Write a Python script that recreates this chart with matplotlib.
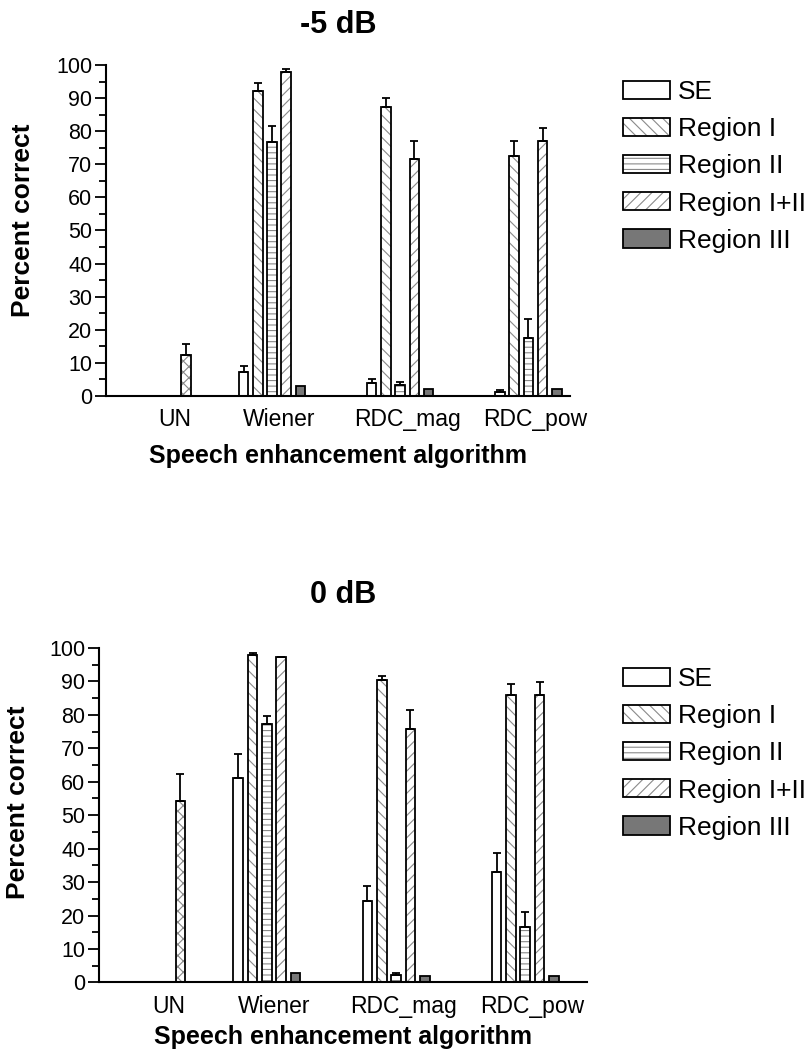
import matplotlib
matplotlib.use("Agg")
import matplotlib.pyplot as plt
from matplotlib.patches import Patch
import numpy as np

plt.rcParams['font.family'] = ['Liberation Sans', 'DejaVu Sans']
plt.rcParams['hatch.linewidth'] = 0.8

groups = ['UN', 'Wiener', 'RDC_mag', 'RDC_pow']
series = ['SE', 'Region I', 'Region II', 'Region I+II', 'Region III']

# -5 dB (Wiener, RDC_mag, RDC_pow)
m5_un, m5_un_err = 12.4, 3.2
m5_vals = [[7.2, 3.8, 1.1],
           [92.0, 87.4, 72.4],
           [76.6, 3.3, 17.6],
           [97.8, 71.6, 77.1],
           [3.0, 2.0, 2.0]]
m5_err = [[1.9, 1.2, 0.6],
          [2.7, 2.7, 4.6],
          [5.0, 1.0, 5.8],
          [1.0, 5.4, 4.0],
          [0.0, 0.0, 0.0]]

# 0 dB
z_un, z_un_err = 54.4, 7.9
z_vals = [[61.2, 24.4, 33.1],
          [97.9, 90.3, 86.0],
          [77.2, 2.1, 16.5],
          [97.2, 75.9, 85.8],
          [2.9, 1.9, 1.9]]
z_err = [[7.2, 4.3, 5.6],
         [0.5, 1.4, 3.1],
         [2.4, 0.8, 4.6],
         [0.2, 5.6, 4.0],
         [0.0, 0.0, 0.0]]

# styles
fills = ['white', 'white', 'white', 'white', '#777777']
hatches = [None, '\\\\\\', '---', '///', None]
hatch_gray = '#8a8a8a'

group_x = np.array([1.0, 2.0, 3.0])
un_x = 0.33
step = 0.111
width = 0.074
label_x = [0.24, 1.055, 2.055, 3.055]

fig = plt.figure(figsize=(8.05, 10.5), dpi=100)
ax1 = fig.add_axes([0.1317, 0.6229, 0.5764, 0.3152])
ax2 = fig.add_axes([0.123, 0.0643, 0.606, 0.3186])


def draw(ax, un, un_err, vals, errs, title, xlim, title_y, yl, leg_top, xpad):
    # UN bar (crosshatch)
    ax.bar(un_x, un, width, color='white', edgecolor=hatch_gray, hatch='xxx', linewidth=0)
    ax.bar(un_x, un, width, color='none', edgecolor='black', linewidth=1.3)
    ax.errorbar(un_x, un, yerr=[[0], [un_err]], fmt='none', ecolor='black',
                elinewidth=1.3, capsize=2.6, capthick=1.3)
    handles = []
    for i, name in enumerate(series):
        xs = group_x + (i - 2) * step
        ax.bar(xs, vals[i], width, color=fills[i], edgecolor=hatch_gray,
               hatch=hatches[i], linewidth=0)
        ax.bar(xs, vals[i], width, color='none', edgecolor='black', linewidth=1.3)
        e = np.array(errs[i])
        if e.max() > 0:
            ax.errorbar(xs, vals[i], yerr=[np.zeros_like(e), e], fmt='none',
                        ecolor='black', elinewidth=1.3, capsize=2.6, capthick=1.3)
        h1 = Patch(facecolor=fills[i], edgecolor=hatch_gray, hatch=hatches[i], linewidth=0)
        h2 = Patch(facecolor='none', edgecolor='black', linewidth=1.3)
        handles.append((h1, h2))

    ax.set_ylim(0, 100)
    ax.set_xlim(*xlim)
    ax.set_yticks(np.arange(0, 101, 10))
    ax.set_yticks(np.arange(0, 101, 5), minor=True)
    ax.set_xticks(label_x)
    ax.set_xticklabels(groups, fontsize=16.5)
    ax.tick_params(axis='x', length=0, pad=9)
    ax.tick_params(axis='y', which='major', length=8, width=1.3, labelsize=15.5, pad=2)
    ax.tick_params(axis='y', which='minor', length=5, width=1.3)
    for s in ['top', 'right']:
        ax.spines[s].set_visible(False)
    for s in ['left', 'bottom']:
        ax.spines[s].set_linewidth(1.5)

    ax.set_ylabel('Percent correct', fontsize=19, fontweight='bold')
    ax.yaxis.set_label_coords(yl[0], yl[1])
    ax.set_xlabel('Speech enhancement algorithm', fontsize=18, fontweight='bold',
                  labelpad=xpad)
    ax.text(0.5, title_y, title, transform=ax.transAxes, ha='center', va='center',
            fontsize=22, fontweight='bold')

    ax.legend(handles, series, loc='upper left', bbox_to_anchor=(623 / 805, leg_top),
              bbox_transform=fig.transFigure, frameon=False, fontsize=19,
              handlelength=1.78, handleheight=0.68, labelspacing=0.5,
              handletextpad=0.3, borderaxespad=0, borderpad=0)


draw(ax1, m5_un, m5_un_err, m5_vals, m5_err, '-5 dB', (-0.295, 3.325), 1.122,
     (-0.152, 0.53), 1 - 80 / 1050, 9)
draw(ax2, z_un, z_un_err, z_vals, z_err, '0 dB', (-0.30, 3.477), 1.158,
     (-0.142, 0.54), 1 - 667 / 1050, 5)

fig.savefig('out.png', dpi=100)
